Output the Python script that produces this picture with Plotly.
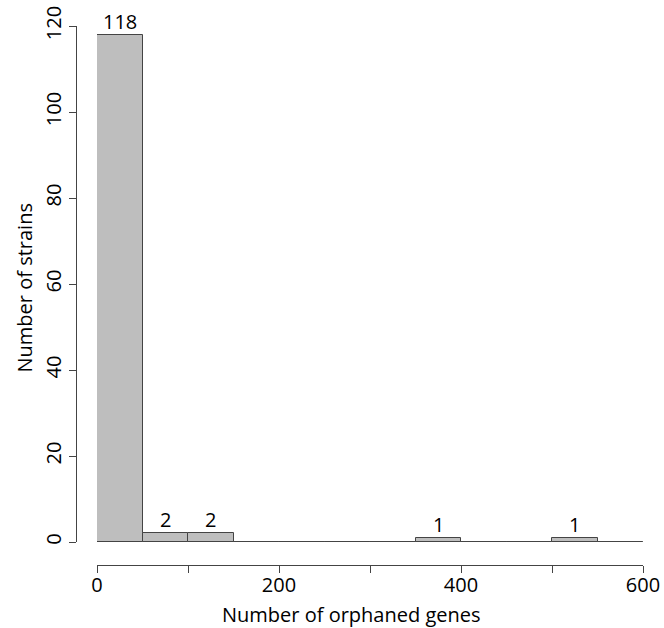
import plotly.graph_objects as go

bin_edges = [0, 50, 100, 150, 200, 250, 300, 350, 400, 450, 500, 550, 600]
counts = [118, 2, 2, 0, 0, 0, 0, 1, 0, 0, 1, 0]
x_tick_vals = [0, 100, 200, 300, 400, 500, 600]
x_tick_text = ["0", "", "200", "", "400", "", "600"]
y_tick_vals = [0, 20, 40, 60, 80, 100, 120]
x_title = "Number of orphaned genes"
y_title = "Number of strains"

centers = [(bin_edges[i] + bin_edges[i + 1]) / 2 for i in range(len(counts))]
widths = [bin_edges[i + 1] - bin_edges[i] for i in range(len(counts))]

FONT = "Open Sans"
AX = "#444444"

fig = go.Figure()
# zero-count baseline (R draws empty bins as flat lines)
fig.add_trace(go.Scatter(x=[bin_edges[0], bin_edges[-1]], y=[0, 0], mode="lines",
                         line=dict(color=AX, width=1), hoverinfo="skip", showlegend=False))
fig.add_trace(go.Bar(
    x=centers, y=counts, width=widths,
    marker=dict(color="#bebebe", line=dict(color=AX, width=1)),
    showlegend=False,
))

W, H = 664, 628
ml, mr, mt, mb = 76, 21, 26, 63
pw = W - ml - mr
ph = H - mt - mb
xa = 21 / pw
yb = 23 / ph

annotations = [
    dict(text=str(c), x=cx, y=c, xref="x", yref="y", xanchor="center", yanchor="bottom",
         yshift=-2, showarrow=False, font=dict(size=20, color="black"))
    for cx, c in zip(centers, counts) if c > 0
]
annotations += [
    dict(text=x_title, xref="paper", yref="paper", x=(351.5 - ml) / pw, y=0,
         xanchor="center", yanchor="middle", yshift=-49, showarrow=False,
         font=dict(size=20)),
    dict(text=y_title, xref="paper", yref="paper", x=0, y=(565 - 288.5) / ph,
         xanchor="center", yanchor="middle", xshift=-52, textangle=-90, showarrow=False,
         font=dict(size=20)),
]

fig.update_layout(
    width=W, height=H,
    margin=dict(l=ml, r=mr, t=mt, b=mb, autoexpand=False),
    plot_bgcolor="white", paper_bgcolor="white",
    font=dict(family=FONT, size=20, color="black"),
    bargap=0,
    xaxis=dict(domain=[xa, 1], anchor="free", position=0, range=[0, 600], automargin=False,
               showgrid=False, zeroline=False, showline=True, linecolor=AX, linewidth=1,
               ticks="outside", ticklen=7, tickcolor=AX, tickwidth=1, ticklabelstandoff=-5,
               tickvals=x_tick_vals, ticktext=x_tick_text, tickfont=dict(size=20)),
    yaxis=dict(domain=[yb, 1], anchor="free", position=0, range=[0, 120], automargin=False,
               showgrid=False, zeroline=False, showline=True, linecolor=AX, linewidth=1,
               ticks="outside", ticklen=7, tickcolor=AX, tickwidth=1,
               tickvals=y_tick_vals, tickangle=-90, tickfont=dict(size=20)),
    annotations=annotations,
)

fig.write_html("out.html")
